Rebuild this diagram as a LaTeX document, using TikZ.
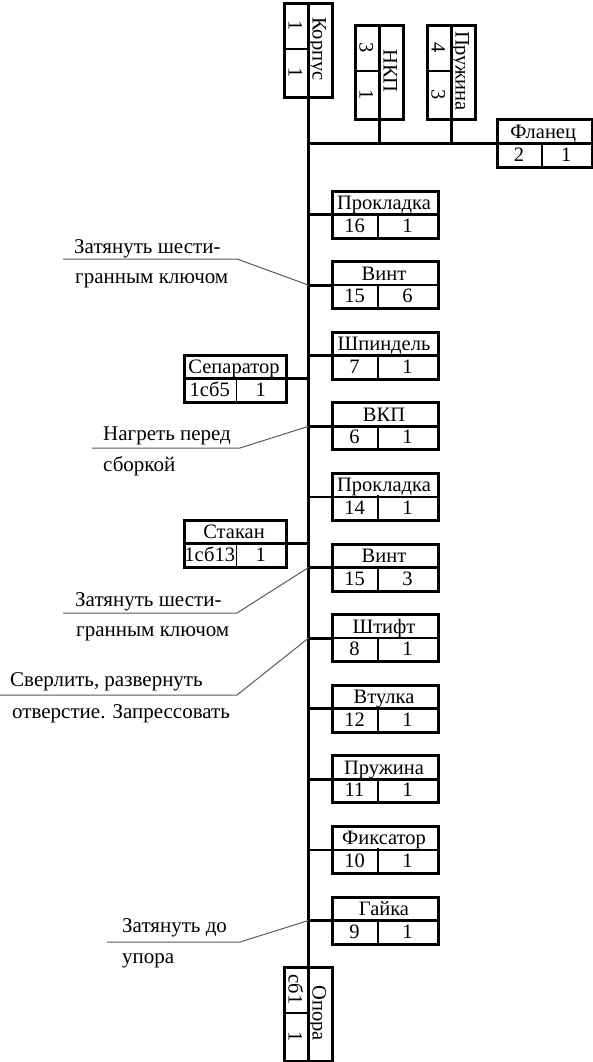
\documentclass[tikz,border=0pt]{standalone}
\usepackage{fontspec}
\setmainfont{Liberation Serif}
\usetikzlibrary{calc}

\tikzset{
	box/.style={draw, line width=3pt, inner sep=0pt, minimum height=47pt},
	midline/.style={line width=2.6pt},
	cellline/.style={line width=1.2pt},
	trunk/.style={line width=2.8pt},
	leader/.style={line width=1pt, black!65},
	lbl/.style={inner sep=0pt, font=\fontsize{20.5}{24}\selectfont, text height=13pt, text depth=0pt},
	note/.style={inner sep=0pt, anchor=base west, font=\fontsize{21}{24}\selectfont},
}

\newcommand{\hdetail}[8] % name, left, top, width, first cell, title, number, quantity
{
	% frame
	\node[box, minimum width=#4pt, anchor=north west] (#1) at (#2,#3) {};
	% title row and cells
	\draw[midline] (#1.west) -- (#1.east);
	\draw[cellline] (#2+#5,#3+23.5) -- (#2+#5,#3+47);
	% texts
	\node[lbl] (#1-t) at (#2+#4/2,#3+13.5) {#6};
	\node[lbl] (#1-n) at (#2+#5/2,#3+36) {#7};
	\node[lbl] (#1-q) at ({#2+(#4+#5)/2},#3+36) {#8};
}
\newcommand{\vdetail}[6] % name, left, top, title, number, quantity
{
	% frame
	\node[box, minimum width=48pt, minimum height=94pt, anchor=north west] (#1) at (#2,#3) {};
	% title column and cells
	\draw[midline] (#1.north) -- (#1.south);
	\draw[cellline] (#2,#3+47) -- (#2+24,#3+47);
	% texts
	\node[lbl, rotate=-90] (#1-t) at (#2+36,#3+47) {#4};
	\node[lbl, rotate=-90] (#1-n) at (#2+12,#3+23.5) {#5};
	\node[lbl, rotate=-90] (#1-q) at (#2+12,#3+70.5) {#6};
}

\begin{document}
\begin{tikzpicture}[x=1pt, y=-1pt]
	% page: 592 x 1062, y downwards
	\useasboundingbox (0,0) rectangle (592,1062);

	% base part and top parts
	\vdetail{korpus}{283}{2}{Корпус}{1}{1};
	\vdetail{nkp}{354}{24}{НКП}{3}{1};
	\vdetail{pruzh4}{426}{24}{Пружина}{4}{3};
	\hdetail{flanec}{496}{118.5}{94.5}{46}{Фланец}{2}{1};

	% parts along the line
	\hdetail{prokl16}{331}{189.5}{106}{47}{Прокладка}{16}{1};
	\hdetail{vint6}{331}{260.1}{106}{47}{Винт}{15}{6};
	\hdetail{shpind}{331}{330.7}{106}{47}{Шпиндель}{7}{1};
	\hdetail{vkp}{331}{401.3}{106}{47}{ВКП}{6}{1};
	\hdetail{prokl14}{331}{471.9}{106}{47}{Прокладка}{14}{1};
	\hdetail{vint3}{331}{542.5}{106}{47}{Винт}{15}{3};
	\hdetail{shtift}{331}{613.1}{106}{47}{Штифт}{8}{1};
	\hdetail{vtulka}{331}{683.7}{106}{47}{Втулка}{12}{1};
	\hdetail{pruzh11}{331}{754.3}{106}{47}{Пружина}{11}{1};
	\hdetail{fiksat}{331}{824.9}{106}{47}{Фиксатор}{10}{1};
	\hdetail{gaika}{331}{895.5}{106}{47}{Гайка}{9}{1};

	% subassemblies
	\hdetail{separ}{183}{353.5}{102}{53.5}{Сепаратор}{1сб5}{1};
	\hdetail{stakan}{183}{518.5}{102}{53.5}{Стакан}{1сб13}{1};
	\vdetail{opora}{283}{966}{Опора}{сб1}{1};

	% main line
	\draw[trunk] (korpus.south) -- (opora.north);
	\draw[trunk] (korpus.south |- flanec.west) -- (flanec.west);
	\draw[trunk] (nkp.south) -- (nkp.south |- flanec.west);
	\draw[trunk] (pruzh4.south) -- (pruzh4.south |- flanec.west);
	\draw[trunk] (korpus.south |- prokl16.west) -- (prokl16.west);
	\draw[trunk] (korpus.south |- vint6.west) -- (vint6.west);
	\draw[trunk] (korpus.south |- shpind.west) -- (shpind.west);
	\draw[trunk] (korpus.south |- vkp.west) -- (vkp.west);
	\draw[trunk] (korpus.south |- prokl14.west) -- (prokl14.west);
	\draw[trunk] (korpus.south |- vint3.west) -- (vint3.west);
	\draw[trunk] (korpus.south |- shtift.west) -- (shtift.west);
	\draw[trunk] (korpus.south |- vtulka.west) -- (vtulka.west);
	\draw[trunk] (korpus.south |- pruzh11.west) -- (pruzh11.west);
	\draw[trunk] (korpus.south |- fiksat.west) -- (fiksat.west);
	\draw[trunk] (korpus.south |- gaika.west) -- (gaika.west);
	\draw[trunk] (separ.east) -- (korpus.south |- separ.east);
	\draw[trunk] (stakan.east) -- (korpus.south |- stakan.east);

	% notes
	\coordinate (l1) at (63,259);
	\coordinate (k1) at (237,259);
	\node[note] (n1a) at (74,253) {Затянуть шести-};
	\node[note] (n1b) at (75,283) {гранным ключом};
	\draw[leader] (l1) -- (k1) -- (korpus.south |- vint6.west);

	\coordinate (l2) at (92,448);
	\coordinate (k2) at (240,448);
	\node[note] (n2a) at (103,440) {Нагреть перед};
	\node[note] (n2b) at (103,471) {сборкой};
	\draw[leader] (l2) -- (k2) -- (korpus.south |- vkp.west);

	\coordinate (l3) at (63,613);
	\coordinate (k3) at (237,613);
	\node[note] (n3a) at (75,606) {Затянуть шести-};
	\node[note] (n3b) at (76,636) {гранным ключом};
	\draw[leader] (l3) -- (k3) -- (korpus.south |- vint3.west);

	\coordinate (l4) at (0,695);
	\coordinate (k4) at (237,695);
	\node[note] (n4a) at (10,686) {Сверлить, развернуть};
	\node[note] (n4b) at (12,718) {отверстие. Запрессовать};
	\draw[leader] (l4) -- (k4) -- (korpus.south |- shtift.west);

	\coordinate (l5) at (107,942);
	\coordinate (k5) at (240,942);
	\node[note] (n5a) at (122,932) {Затянуть до};
	\node[note] (n5b) at (122,963) {упора};
	\draw[leader] (l5) -- (k5) -- (korpus.south |- gaika.west);
\end{tikzpicture}
\end{document}
